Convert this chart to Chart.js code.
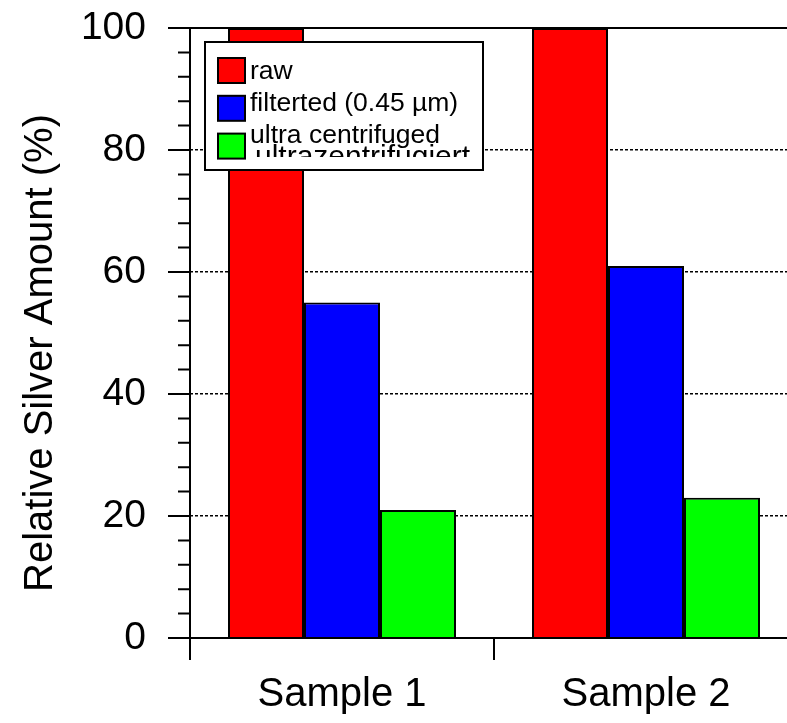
<!DOCTYPE html>
<html>
<head>
<meta charset="utf-8">
<script src="https://cdn.jsdelivr.net/npm/chart.js@4/dist/chart.umd.min.js"></script>
<style>
  html, body { margin: 0; padding: 0; background: #fff; overflow: hidden; }
  canvas { display: block; }
</style>
</head>
<body>
<canvas id="chart" width="798" height="723"></canvas>
<script>
const samples = ['Sample 1', 'Sample 2'];
const rawSilver = [100, 100];
const filteredSilver = [55, 61];
const ultraSilver = [21, 23];
const yTicks = [0, 20, 40, 60, 80, 100];

const FONT = 'Arial, "Liberation Sans", Helvetica, sans-serif';

// axes, frame line, minor ticks and the rotated y title
const axisPlugin = {
  id: 'axisLines',
  afterDatasetsDraw(chart) {
    const ctx = chart.ctx;
    const area = chart.chartArea;
    const x = chart.scales.x;
    const y = chart.scales.y;
    ctx.save();
    ctx.strokeStyle = '#000';
    ctx.lineWidth = 2;
    ctx.beginPath();
    // y axis line, runs down past the x axis
    ctx.moveTo(area.left, area.top);
    ctx.lineTo(area.left, area.bottom + 22);
    // x axis and top frame
    ctx.moveTo(area.left - 22, area.bottom);
    ctx.lineTo(area.right, area.bottom);
    ctx.moveTo(area.left - 22, area.top);
    ctx.lineTo(area.right, area.top);
    // major y ticks
    yTicks.forEach(v => {
      const py = y.getPixelForValue(v);
      ctx.moveTo(area.left - 22, py);
      ctx.lineTo(area.left, py);
    });
    // minor y ticks every 4 %
    for (let v = 4; v < 100; v += 4) {
      if (v % 20 === 0) continue;
      const py = y.getPixelForValue(v);
      ctx.moveTo(area.left - 12, py);
      ctx.lineTo(area.left, py);
    }
    // x ticks sit between the categories
    const half = (x.getPixelForValue(1) - x.getPixelForValue(0)) / 2;
    for (let i = 0; i <= samples.length; i++) {
      const px = x.getPixelForValue(0) - half + i * half * 2;
      ctx.moveTo(px, area.bottom);
      ctx.lineTo(px, area.bottom + 22);
    }
    ctx.stroke();

    ctx.fillStyle = '#000';
    ctx.font = '40px ' + FONT;
    ctx.textAlign = 'center';
    ctx.textBaseline = 'middle';
    ctx.translate(41, (area.top + area.bottom) / 2 + 20);
    ctx.rotate(-Math.PI / 2);
    ctx.fillText('Relative Silver Amount (%)', 0, 0);
    ctx.restore();
  }
};

// boxed legend in the upper left of the plot
const legendPlugin = {
  id: 'boxLegend',
  afterDatasetsDraw(chart) {
    const ctx = chart.ctx;
    const area = chart.chartArea;
    const bx = area.left + 15, by = area.top + 14, bw = 278, bh = 128;
    ctx.save();
    ctx.fillStyle = '#fff';
    ctx.fillRect(bx, by, bw, bh);

    // old label left under the new one, only its top shows
    ctx.save();
    ctx.beginPath();
    ctx.rect(bx, by, bw, 115);
    ctx.clip();
    ctx.fillStyle = '#000';
    ctx.font = '30px ' + FONT;
    ctx.textBaseline = 'alphabetic';
    ctx.fillText('ultrazentrifugiert', bx + 50, by + 124);
    ctx.restore();

    ctx.strokeStyle = '#000';
    ctx.lineWidth = 2;
    ctx.strokeRect(bx, by, bw, bh);

    ctx.font = '26.5px ' + FONT;
    ctx.textAlign = 'left';
    ctx.textBaseline = 'alphabetic';
    chart.data.datasets.forEach((ds, i) => {
      const sy = by + 16 + i * 37.8;
      ctx.fillStyle = ds.backgroundColor;
      ctx.fillRect(bx + 13, sy, 27, 25);
      ctx.strokeRect(bx + 13, sy, 27, 25);
      ctx.fillStyle = '#000';
      ctx.fillText(ds.label, bx + 45, by + 37 + i * 32);
    });
    ctx.restore();
  }
};

const ctx = document.getElementById('chart').getContext('2d');
const chart = new Chart(ctx, {
  type: 'bar',
  data: {
    labels: samples,
    datasets: [
      { label: 'raw', data: rawSilver, backgroundColor: '#ff0000' },
      { label: 'filterted (0.45 µm)', data: filteredSilver, backgroundColor: '#0000ff' },
      { label: 'ultra centrifuged', data: ultraSilver, backgroundColor: '#00ff00' }
    ]
  },
  options: {
    responsive: false,
    animation: false,
    devicePixelRatio: 1,
    layout: { padding: { top: 28, right: 0, left: 0, bottom: 0 } },
    datasets: {
      bar: {
        borderColor: '#000',
        borderWidth: 2,
        categoryPercentage: 0.75,
        barPercentage: 1
      }
    },
    plugins: {
      legend: { display: false },
      tooltip: { enabled: false }
    },
    scales: {
      x: {
        grid: { display: false, drawTicks: false },
        border: { display: false },
        ticks: {
          color: '#000',
          padding: 33,
          font: { family: FONT, size: 40 }
        },
        afterFit(scale) {
          scale.height = 85;
          scale.paddingLeft = 0;
          scale.paddingRight = 0;
        }
      },
      y: {
        min: 0,
        max: 100,
        grid: {
          drawTicks: false,
          lineWidth: 1.5,
          color: c => (c.tick && (c.tick.value === 0 || c.tick.value === 100)) ? 'rgba(0,0,0,0)' : '#000'
        },
        border: { display: false, dash: [3, 2] },
        ticks: {
          stepSize: 20,
          color: '#000',
          padding: 44,
          font: { family: FONT, size: 39 }
        },
        afterFit(scale) {
          scale.width = 190;
          scale.paddingTop = 0;
          scale.paddingBottom = 0;
        }
      }
    }
  },
  plugins: [axisPlugin, legendPlugin]
});
</script>
</body>
</html>
